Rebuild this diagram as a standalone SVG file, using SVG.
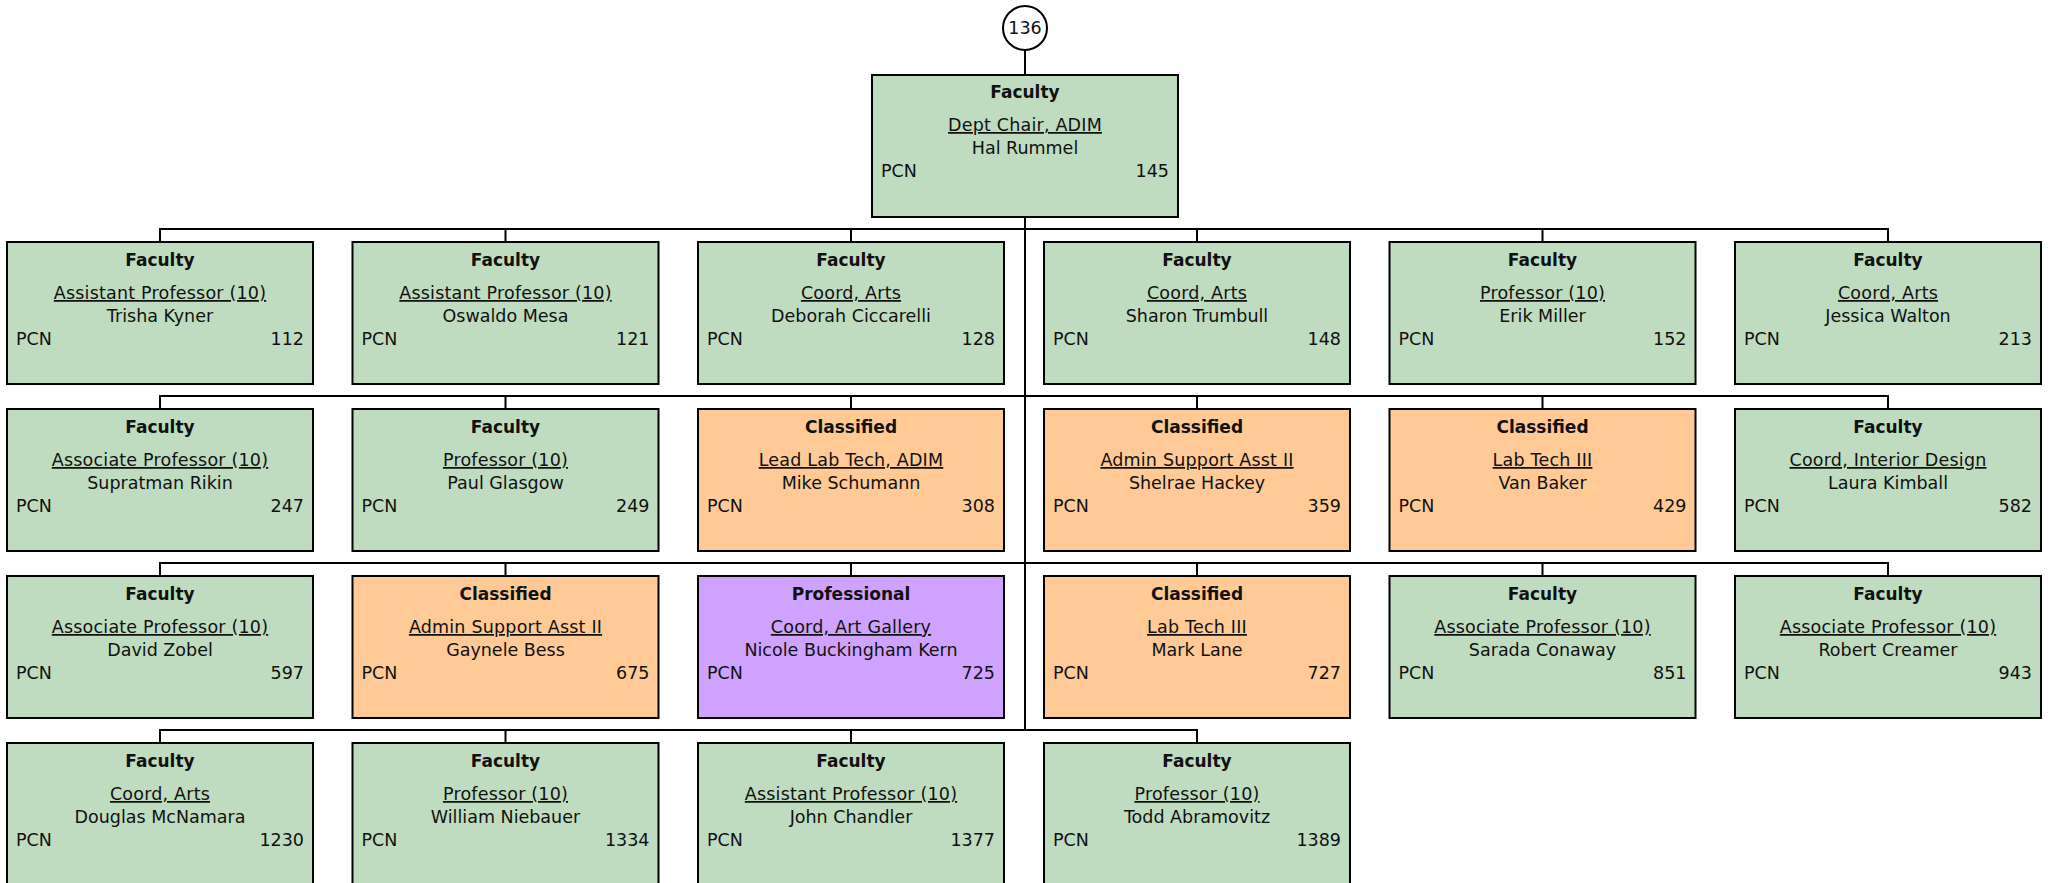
<svg xmlns="http://www.w3.org/2000/svg" width="2049" height="883" viewBox="0 0 2049 883">
<style>
.box{stroke:#000;stroke-width:2}
.fac{fill:#C0DCC0}
.cls{fill:#FFCA96}
.pro{fill:#D0A2FF}
.t{font-family:"DejaVu Sans","Verdana",sans-serif;font-size:17.5px;fill:#111}
.h{font-weight:bold;text-anchor:middle;font-size:17px}
.c{text-anchor:middle}
.u{text-decoration:underline;letter-spacing:0.2px}
.r{text-anchor:end}
.ln{stroke:#000;stroke-width:2;fill:none}
</style>
<rect width="2049" height="883" fill="#fff"/>
<g id="connectors">
<circle class="ln" cx="1025" cy="28" r="22"/>
<text class="t c" x="1025" y="34">136</text>
<line class="ln" x1="1025" y1="50" x2="1025" y2="75"/>
<line class="ln" x1="1025" y1="217" x2="1025" y2="730"/>
<path class="ln" d="M160,242V229H1888V242M505.5,229V242M851,229V242M1197,229V242M1542.5,229V242"/>
<path class="ln" d="M160,409V396H1888V409M505.5,396V409M851,396V409M1197,396V409M1542.5,396V409"/>
<path class="ln" d="M160,576V563H1888V576M505.5,563V576M851,563V576M1197,563V576M1542.5,563V576"/>
<path class="ln" d="M160,743V730H1197V743M505.5,730V743M851,730V743"/>
</g>
<g id="n145"><rect class="box fac" x="872" y="75" width="306" height="142"/><text class="t h" x="1025" y="98">Faculty</text><text class="t c u" x="1025" y="131">Dept Chair, ADIM</text><text class="t c" x="1025" y="154">Hal Rummel</text><text class="t" x="881" y="177">PCN</text><text class="t r" x="1169" y="177">145</text></g>

<g id="n112"><rect class="box fac" x="7" y="242" width="306" height="142"/><text class="t h" x="160" y="266">Faculty</text><text class="t c u" x="160" y="299">Assistant Professor (10)</text><text class="t c" x="160" y="322">Trisha Kyner</text><text class="t" x="16" y="345">PCN</text><text class="t r" x="304" y="345">112</text></g>
<g id="n121"><rect class="box fac" x="352.5" y="242" width="306" height="142"/><text class="t h" x="505.5" y="266">Faculty</text><text class="t c u" x="505.5" y="299">Assistant Professor (10)</text><text class="t c" x="505.5" y="322">Oswaldo Mesa</text><text class="t" x="361.5" y="345">PCN</text><text class="t r" x="649.5" y="345">121</text></g>
<g id="n128"><rect class="box fac" x="698" y="242" width="306" height="142"/><text class="t h" x="851" y="266">Faculty</text><text class="t c u" x="851" y="299">Coord, Arts</text><text class="t c" x="851" y="322">Deborah Ciccarelli</text><text class="t" x="707" y="345">PCN</text><text class="t r" x="995" y="345">128</text></g>
<g id="n148"><rect class="box fac" x="1044" y="242" width="306" height="142"/><text class="t h" x="1197" y="266">Faculty</text><text class="t c u" x="1197" y="299">Coord, Arts</text><text class="t c" x="1197" y="322">Sharon Trumbull</text><text class="t" x="1053" y="345">PCN</text><text class="t r" x="1341" y="345">148</text></g>
<g id="n152"><rect class="box fac" x="1389.5" y="242" width="306" height="142"/><text class="t h" x="1542.5" y="266">Faculty</text><text class="t c u" x="1542.5" y="299">Professor (10)</text><text class="t c" x="1542.5" y="322">Erik Miller</text><text class="t" x="1398.5" y="345">PCN</text><text class="t r" x="1686.5" y="345">152</text></g>
<g id="n213"><rect class="box fac" x="1735" y="242" width="306" height="142"/><text class="t h" x="1888" y="266">Faculty</text><text class="t c u" x="1888" y="299">Coord, Arts</text><text class="t c" x="1888" y="322">Jessica Walton</text><text class="t" x="1744" y="345">PCN</text><text class="t r" x="2032" y="345">213</text></g>

<g id="n247"><rect class="box fac" x="7" y="409" width="306" height="142"/><text class="t h" x="160" y="433">Faculty</text><text class="t c u" x="160" y="466">Associate Professor (10)</text><text class="t c" x="160" y="489">Supratman Rikin</text><text class="t" x="16" y="512">PCN</text><text class="t r" x="304" y="512">247</text></g>
<g id="n249"><rect class="box fac" x="352.5" y="409" width="306" height="142"/><text class="t h" x="505.5" y="433">Faculty</text><text class="t c u" x="505.5" y="466">Professor (10)</text><text class="t c" x="505.5" y="489">Paul Glasgow</text><text class="t" x="361.5" y="512">PCN</text><text class="t r" x="649.5" y="512">249</text></g>
<g id="n308"><rect class="box cls" x="698" y="409" width="306" height="142"/><text class="t h" x="851" y="433">Classified</text><text class="t c u" x="851" y="466">Lead Lab Tech, ADIM</text><text class="t c" x="851" y="489">Mike Schumann</text><text class="t" x="707" y="512">PCN</text><text class="t r" x="995" y="512">308</text></g>
<g id="n359"><rect class="box cls" x="1044" y="409" width="306" height="142"/><text class="t h" x="1197" y="433">Classified</text><text class="t c u" x="1197" y="466">Admin Support Asst II</text><text class="t c" x="1197" y="489">Shelrae Hackey</text><text class="t" x="1053" y="512">PCN</text><text class="t r" x="1341" y="512">359</text></g>
<g id="n429"><rect class="box cls" x="1389.5" y="409" width="306" height="142"/><text class="t h" x="1542.5" y="433">Classified</text><text class="t c u" x="1542.5" y="466">Lab Tech III</text><text class="t c" x="1542.5" y="489">Van Baker</text><text class="t" x="1398.5" y="512">PCN</text><text class="t r" x="1686.5" y="512">429</text></g>
<g id="n582"><rect class="box fac" x="1735" y="409" width="306" height="142"/><text class="t h" x="1888" y="433">Faculty</text><text class="t c u" x="1888" y="466">Coord, Interior Design</text><text class="t c" x="1888" y="489">Laura Kimball</text><text class="t" x="1744" y="512">PCN</text><text class="t r" x="2032" y="512">582</text></g>

<g id="n597"><rect class="box fac" x="7" y="576" width="306" height="142"/><text class="t h" x="160" y="600">Faculty</text><text class="t c u" x="160" y="633">Associate Professor (10)</text><text class="t c" x="160" y="656">David Zobel</text><text class="t" x="16" y="679">PCN</text><text class="t r" x="304" y="679">597</text></g>
<g id="n675"><rect class="box cls" x="352.5" y="576" width="306" height="142"/><text class="t h" x="505.5" y="600">Classified</text><text class="t c u" x="505.5" y="633">Admin Support Asst II</text><text class="t c" x="505.5" y="656">Gaynele Bess</text><text class="t" x="361.5" y="679">PCN</text><text class="t r" x="649.5" y="679">675</text></g>
<g id="n725"><rect class="box pro" x="698" y="576" width="306" height="142"/><text class="t h" x="851" y="600">Professional</text><text class="t c u" x="851" y="633">Coord, Art Gallery</text><text class="t c" x="851" y="656">Nicole Buckingham Kern</text><text class="t" x="707" y="679">PCN</text><text class="t r" x="995" y="679">725</text></g>
<g id="n727"><rect class="box cls" x="1044" y="576" width="306" height="142"/><text class="t h" x="1197" y="600">Classified</text><text class="t c u" x="1197" y="633">Lab Tech III</text><text class="t c" x="1197" y="656">Mark Lane</text><text class="t" x="1053" y="679">PCN</text><text class="t r" x="1341" y="679">727</text></g>
<g id="n851"><rect class="box fac" x="1389.5" y="576" width="306" height="142"/><text class="t h" x="1542.5" y="600">Faculty</text><text class="t c u" x="1542.5" y="633">Associate Professor (10)</text><text class="t c" x="1542.5" y="656">Sarada Conaway</text><text class="t" x="1398.5" y="679">PCN</text><text class="t r" x="1686.5" y="679">851</text></g>
<g id="n943"><rect class="box fac" x="1735" y="576" width="306" height="142"/><text class="t h" x="1888" y="600">Faculty</text><text class="t c u" x="1888" y="633">Associate Professor (10)</text><text class="t c" x="1888" y="656">Robert Creamer</text><text class="t" x="1744" y="679">PCN</text><text class="t r" x="2032" y="679">943</text></g>

<g id="n1230"><rect class="box fac" x="7" y="743" width="306" height="142"/><text class="t h" x="160" y="767">Faculty</text><text class="t c u" x="160" y="800">Coord, Arts</text><text class="t c" x="160" y="823">Douglas McNamara</text><text class="t" x="16" y="846">PCN</text><text class="t r" x="304" y="846">1230</text></g>
<g id="n1334"><rect class="box fac" x="352.5" y="743" width="306" height="142"/><text class="t h" x="505.5" y="767">Faculty</text><text class="t c u" x="505.5" y="800">Professor (10)</text><text class="t c" x="505.5" y="823">William Niebauer</text><text class="t" x="361.5" y="846">PCN</text><text class="t r" x="649.5" y="846">1334</text></g>
<g id="n1377"><rect class="box fac" x="698" y="743" width="306" height="142"/><text class="t h" x="851" y="767">Faculty</text><text class="t c u" x="851" y="800">Assistant Professor (10)</text><text class="t c" x="851" y="823">John Chandler</text><text class="t" x="707" y="846">PCN</text><text class="t r" x="995" y="846">1377</text></g>
<g id="n1389"><rect class="box fac" x="1044" y="743" width="306" height="142"/><text class="t h" x="1197" y="767">Faculty</text><text class="t c u" x="1197" y="800">Professor (10)</text><text class="t c" x="1197" y="823">Todd Abramovitz</text><text class="t" x="1053" y="846">PCN</text><text class="t r" x="1341" y="846">1389</text></g>
</svg>
